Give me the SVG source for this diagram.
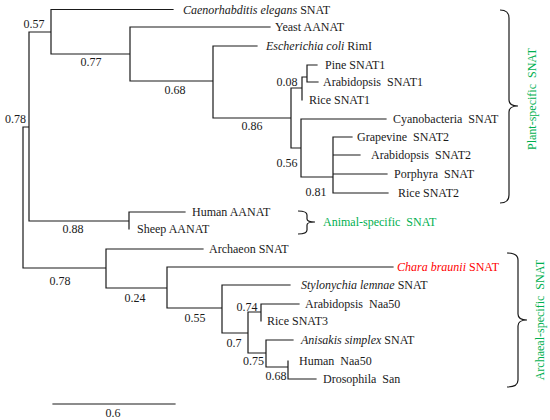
<svg xmlns="http://www.w3.org/2000/svg" width="550" height="420" viewBox="0 0 550 420">
<style>
.e{stroke:#1a1a1a;stroke-width:1.2;fill:none;stroke-linecap:square}
text{font-family:"Liberation Serif","Times New Roman",serif;font-size:12px;fill:#1a1a1a}
.n{text-anchor:middle}
.w{word-spacing:3px}
.i{font-style:italic}
.g{fill:#00b050}
.r{fill:#ff0000}
.b{stroke:#1a1a1a;stroke-width:1.2;fill:none}
</style>
<rect width="550" height="420" fill="#fff"/>
<g id="connectors">
<path class="e" d="M23 127V268M23 127H29M29 32V221
M29 32H51M51 9.5V54M51 9.5H173
M51 54H130M130 27V81M130 27H270
M130 81H213M213 46V118M213 46H257
M213 118H291M291 88V148
M291 88H302M302 77V100M302 77H307M307 65V82M307 65H317M307 82H318
M291 148H301M301 119V177M301 119H386
M301 177H333M333 137V193M333 137H352M333 155H360M333 174H387M333 193H388
M29 221H129M129 212V229M129 212H185
M23 268H106M106 249V288M106 249H203
M106 288H167M167 267V308M167 267H393
M167 308H222M222 285V333M222 285H290
M222 333H248M248 312V353
M248 312H261M261 304V321M261 304H299
M248 353H266M266 340V367M266 340H293
M266 367H288M288 361V379M288 379H316
M53 404H175"/>
</g>
<g id="labels">
<text class="n" x="34" y="28">0.57</text>
<text class="n" x="91" y="66">0.77</text>
<text class="n" x="175" y="94">0.68</text>
<text class="n" x="252" y="130">0.86</text>
<text class="n" x="287" y="86">0.08</text>
<text class="n" x="287" y="167">0.56</text>
<text class="n" x="316" y="196">0.81</text>
<text class="n" x="15.5" y="123">0.78</text>
<text class="n" x="73" y="233">0.88</text>
<text class="n" x="60" y="285">0.78</text>
<text class="n" x="135" y="302">0.24</text>
<text class="n" x="195" y="322">0.55</text>
<text class="n" x="247" y="311">0.74</text>
<text class="n" x="234" y="347">0.7</text>
<text class="n" x="253.5" y="365">0.75</text>
<text class="n" x="276" y="380">0.68</text>
<text class="n" x="113" y="417">0.6</text>
</g>
<g id="leaves">
<text x="183" y="14"><tspan class="i">Caenorhabditis elegans</tspan> SNAT</text>
<text x="275" y="31">Yeast AANAT</text>
<text x="266" y="50"><tspan class="i">Escherichia coli</tspan> RimI</text>
<text x="325" y="69">Pine SNAT1</text>
<text class="w" x="323" y="86">Arabidopsis SNAT1</text>
<text x="309" y="104">Rice SNAT1</text>
<text class="w" x="393" y="123">Cyanobacteria SNAT</text>
<text class="w" x="357" y="141">Grapevine SNAT2</text>
<text class="w" x="371" y="159">Arabidopsis SNAT2</text>
<text class="w" x="394" y="178">Porphyra SNAT</text>
<text x="398" y="197">Rice SNAT2</text>
<text x="192" y="216">Human AANAT</text>
<text x="137" y="233">Sheep AANAT</text>
<text x="209" y="253">Archaeon SNAT</text>
<text class="r" x="397" y="271"><tspan class="i">Chara braunii</tspan> SNAT</text>
<text x="301" y="289"><tspan class="i">Stylonychia lemnae</tspan> SNAT</text>
<text class="w" x="305" y="308">Arabidopsis Naa50</text>
<text x="267" y="325">Rice SNAT3</text>
<text x="301" y="344"><tspan class="i">Anisakis simplex</tspan> SNAT</text>
<text class="w" x="299" y="365">Human Naa50</text>
<text class="w" x="323" y="383">Drosophila San</text>
</g>
<g id="plant-group">
<path class="b" d="M500 10Q509 10 509 18V100Q509 106 518 106Q509 106 509 112V195Q509 203 500 203"/>
<text class="g n w" transform="translate(536 99) rotate(-90)">Plant-specific SNAT</text>
</g>
<g id="animal-group">
<path class="b" d="M298 211Q307 211 307 215V219Q307 222 315 222Q307 222 307 225V230Q307 234 298 234"/>
<text class="g w" x="323" y="226">Animal-specific SNAT</text>
</g>
<g id="archaeal-group">
<path class="b" d="M507 253Q518 253 518 260V314Q518 320 527 320Q518 320 518 326V380Q518 387 507 387"/>
<text class="g n w" transform="translate(544 320) rotate(-90)">Archaeal-specific SNAT</text>
</g>
</svg>
